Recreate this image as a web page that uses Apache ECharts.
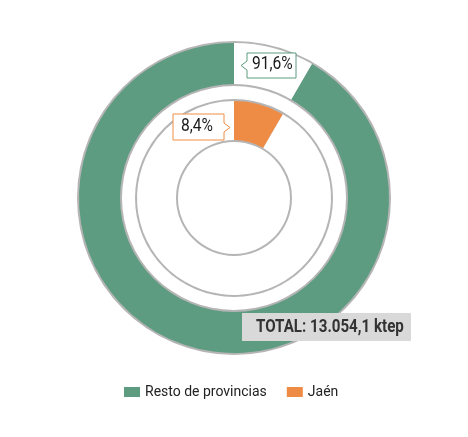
<!DOCTYPE html>
<html><head><meta charset="utf-8">
<script src="https://cdn.jsdelivr.net/npm/echarts@6/dist/echarts.min.js"></script>
<style>html,body{margin:0;padding:0;background:#fff}#c{width:468px;height:437px}</style>
</head><body><div id="c"></div>
<script>
var categories = ['Resto de provincias', 'Jaén'];
var shares = [91.6, 8.4];
var totalLabel = 'TOTAL: 13.054,1 ktep';
var colors = ['#5d9c80', '#ee8c46'];
var GRAY = '#b5b5b5';
var FONT = "'Roboto', sans-serif";
function fmt(v){ return v.toFixed(1).replace('.', ',') + '%'; }

var chart = echarts.init(document.getElementById('c'), null, {renderer:'canvas'});
var C = [234, 198];
function ring(r){
  return {type:'pie', silent:true, center:C, radius:r, startAngle:90, label:{show:false}, labelLine:{show:false},
    emphasis:{disabled:true}, animation:false, data:[{name:'_ring', value:1, itemStyle:{color:GRAY}}]};
}
var option = {
  animation:false,
  legend:{
    data:[{name:categories[0]},{name:categories[1]}],
    left:119, top:380, itemWidth:16, itemHeight:10, itemGap:20,
    icon:'rect',
    textStyle:{fontFamily:FONT, fontSize:14, color:'#222'},
    selectedMode:false
  },
  series:[
    ring([112,157]),
    {type:'pie', silent:true, center:C, radius:[114,155], startAngle:90, clockwise:true, animation:false,
      label:{show:false}, labelLine:{show:false}, emphasis:{disabled:true},
      data:[
        {name:'_gap', value:shares[1], itemStyle:{color:'#ffffff'}},
        {name:categories[0], value:shares[0], itemStyle:{color:colors[0]}}
      ]},
    ring([56,99]),
    {type:'pie', silent:true, center:C, radius:[58,97], startAngle:90, clockwise:true, animation:false,
      label:{show:false}, labelLine:{show:false}, emphasis:{disabled:true},
      data:[
        {name:categories[1], value:shares[1], itemStyle:{color:colors[1]}},
        {name:'_rest', value:shares[0], itemStyle:{color:'#ffffff'}}
      ]}
  ],
  graphic:[
    {type:'polygon', shape:{points:[[247,53],[296,53],[296,78],[247,78],[247,70],[241,65.5],[247,61]]},
      style:{fill:'#fff', stroke:colors[0], lineWidth:1}, z:10},
    {type:'text', x:252, y:55, scaleX:0.82, style:{text:fmt(shares[0]), font:'19px '+FONT, fill:'#1a1a1a', textVerticalAlign:'top'}, z:11},
    {type:'polygon', shape:{points:[[173,114],[224,114],[224,123],[230,127.5],[224,132],[224,140],[173,140]]},
      style:{fill:'#fff', stroke:colors[1], lineWidth:1}, z:10},
    {type:'text', x:181, y:117, scaleX:0.82, style:{text:fmt(shares[1]), font:'19px '+FONT, fill:'#1a1a1a', textVerticalAlign:'top'}, z:11},
    {type:'rect', shape:{x:242, y:313, width:169, height:28}, style:{fill:'#d9d9d9'}, z:10},
    {type:'text', x:256, y:318, scaleX:0.84, style:{text:totalLabel, font:'bold 18px '+FONT, fill:'#333', textVerticalAlign:'top'}, z:11}
  ]
};
chart.setOption(option);
</script></body></html>
